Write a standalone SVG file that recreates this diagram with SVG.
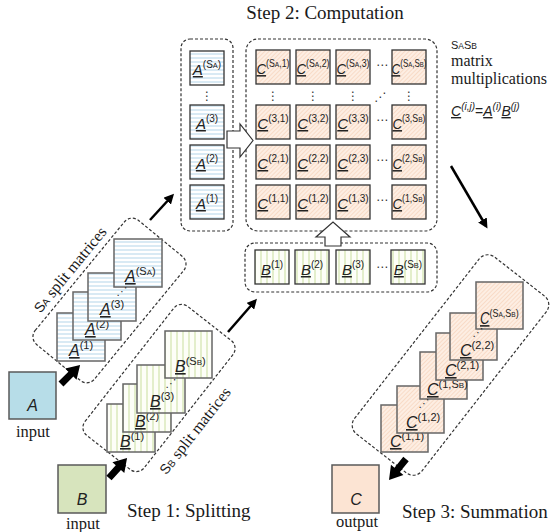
<svg xmlns="http://www.w3.org/2000/svg" width="557" height="532" viewBox="0 0 557 532">
<defs>
<pattern id="pA" width="4" height="4" patternUnits="userSpaceOnUse"><rect width="4" height="4" fill="#fff"/><line x1="0" y1="2" x2="4" y2="2" stroke="#b4d6ea" stroke-width="1"/></pattern>
<pattern id="pB" width="6" height="6" patternUnits="userSpaceOnUse"><rect width="6" height="6" fill="#fdfef8"/><line x1="3" y1="0" x2="3" y2="6" stroke="#cadf9e" stroke-width="1"/></pattern>
<pattern id="pC" width="3" height="3" patternUnits="userSpaceOnUse" patternTransform="rotate(45)"><rect width="3" height="3" fill="#fdeee3"/><line x1="1.5" y1="0" x2="1.5" y2="3" stroke="#f6d6c0" stroke-width="0.8"/></pattern>
<marker id="ah" viewBox="0 0 10 10" refX="7" refY="5" markerWidth="4" markerHeight="4" orient="auto" markerUnits="strokeWidth"><path d="M0,0 L10,5 L0,10 z" fill="#000"/></marker>
<path id="fat" d="M0,-3.5 L14,-3.5 L14,-8 L27,0 L14,8 L14,3.5 L0,3.5 z" fill="#000"/>
</defs>
<style>
.dash{fill:none;stroke:#333;stroke-width:1.2;stroke-dasharray:3 2}
.ta{fill:url(#pA);stroke:#333;stroke-width:1.3}
.tb{fill:url(#pB);stroke:#333;stroke-width:1.3}
.tc{fill:url(#pC);stroke:#333;stroke-width:1.3}
.sa{fill:url(#pA);stroke:#666;stroke-width:1.5}
.sb{fill:url(#pB);stroke:#666;stroke-width:1.5}
.sc{fill:url(#pC);stroke:#666;stroke-width:1.5}
.lb{font-family:"Liberation Sans",Arial,sans-serif;font-size:15px;fill:#222;text-anchor:middle}
.lg{font-family:"Liberation Sans",Arial,sans-serif;font-size:16px;fill:#222}
.i{font-style:italic;text-decoration:underline}
.s{font-size:10px}
.s2{font-size:11px}
.m{font-size:7.5px}
.m2{font-size:8px}
.dot{font-family:"DejaVu Sans",sans-serif;font-size:12px;fill:#333;text-anchor:middle}
.dt{font-family:"DejaVu Sans",sans-serif;font-size:11px;fill:#333;text-anchor:middle}
.ser{font-family:"Liberation Serif","Times New Roman",serif;fill:#1a1a1a}
.hol{fill:#fff;stroke:#333;stroke-width:1.2}
.thin{stroke:#000;stroke-width:2.5;fill:none;marker-end:url(#ah)}
</style>

<text class="ser" x="325" y="19" font-size="19" text-anchor="middle">Step 2: Computation</text>

<!-- dashed containers -->
<g id="groups">
<rect class="dash" x="181" y="39" width="52" height="192" rx="9"/>
<rect class="dash" x="246" y="39" width="191" height="192" rx="12"/>
<rect class="dash" x="245" y="243" width="192" height="49" rx="10"/>
<rect class="dash" x="-80.3" y="-38.4" width="160.6" height="76.7" rx="10" transform="translate(109.5,300.5) rotate(-50.6)"/>
<rect class="dash" x="-81.9" y="-37.6" width="163.8" height="75.2" rx="10" transform="translate(159,388) rotate(-51.9)"/>
<rect class="dash" x="-112.2" y="-42.7" width="224.4" height="85.4" rx="11" transform="translate(450.5,365) rotate(-52)"/>
</g>

<!-- A column -->
<g id="colA">
<rect class="ta" x="190" y="51" width="34" height="34"/>
<text class="lb" x="207" y="75"><tspan class="i">A</tspan><tspan class="s" dy="-7">(S</tspan><tspan class="m">A</tspan><tspan class="s">)</tspan></text>
<text class="dot" x="207" y="100">⋮</text>
<rect class="ta" x="190" y="105" width="34" height="34"/>
<text class="lb" x="207" y="129"><tspan class="i">A</tspan><tspan class="s" dy="-7">(3)</tspan></text>
<rect class="ta" x="190" y="145" width="34" height="34"/>
<text class="lb" x="207" y="169"><tspan class="i">A</tspan><tspan class="s" dy="-7">(2)</tspan></text>
<rect class="ta" x="190" y="185" width="34" height="34"/>
<text class="lb" x="207" y="209"><tspan class="i">A</tspan><tspan class="s" dy="-7">(1)</tspan></text>
</g>

<!-- C grid -->
<g id="gridC">
<rect class="tc" x="256" y="50" width="34" height="34"/>
<rect class="tc" x="296" y="50" width="34" height="34"/>
<rect class="tc" x="336" y="50" width="34" height="34"/>
<rect class="tc" x="392" y="50" width="34" height="34"/>
<rect class="tc" x="256" y="105" width="34" height="34"/>
<rect class="tc" x="296" y="105" width="34" height="34"/>
<rect class="tc" x="336" y="105" width="34" height="34"/>
<rect class="tc" x="392" y="105" width="34" height="34"/>
<rect class="tc" x="256" y="145" width="34" height="34"/>
<rect class="tc" x="296" y="145" width="34" height="34"/>
<rect class="tc" x="336" y="145" width="34" height="34"/>
<rect class="tc" x="392" y="145" width="34" height="34"/>
<rect class="tc" x="256" y="185" width="34" height="34"/>
<rect class="tc" x="296" y="185" width="34" height="34"/>
<rect class="tc" x="336" y="185" width="34" height="34"/>
<rect class="tc" x="392" y="185" width="34" height="34"/>

<text class="lb" transform="translate(273,74) scale(0.88,1)"><tspan class="i">C</tspan><tspan class="s" dy="-7">(S</tspan><tspan class="m">A</tspan><tspan class="s">,1)</tspan></text>
<text class="lb" transform="translate(313,74) scale(0.88,1)"><tspan class="i">C</tspan><tspan class="s" dy="-7">(S</tspan><tspan class="m">A</tspan><tspan class="s">,2)</tspan></text>
<text class="lb" transform="translate(353,74) scale(0.88,1)"><tspan class="i">C</tspan><tspan class="s" dy="-7">(S</tspan><tspan class="m">A</tspan><tspan class="s">,3)</tspan></text>
<text class="lb" transform="translate(409,74) scale(0.8,1)"><tspan class="i">C</tspan><tspan class="s" dy="-7">(S</tspan><tspan class="m">A</tspan><tspan class="s">,S</tspan><tspan class="m">B</tspan><tspan class="s">)</tspan></text>

<text class="lb" x="273" y="129"><tspan class="i">C</tspan><tspan class="s" dy="-7">(3,1)</tspan></text>
<text class="lb" x="313" y="129"><tspan class="i">C</tspan><tspan class="s" dy="-7">(3,2)</tspan></text>
<text class="lb" x="353" y="129"><tspan class="i">C</tspan><tspan class="s" dy="-7">(3,3)</tspan></text>
<text class="lb" transform="translate(409,129) scale(0.88,1)"><tspan class="i">C</tspan><tspan class="s" dy="-7">(3,S</tspan><tspan class="m">B</tspan><tspan class="s">)</tspan></text>

<text class="lb" x="273" y="169"><tspan class="i">C</tspan><tspan class="s" dy="-7">(2,1)</tspan></text>
<text class="lb" x="313" y="169"><tspan class="i">C</tspan><tspan class="s" dy="-7">(2,2)</tspan></text>
<text class="lb" x="353" y="169"><tspan class="i">C</tspan><tspan class="s" dy="-7">(2,3)</tspan></text>
<text class="lb" transform="translate(409,169) scale(0.88,1)"><tspan class="i">C</tspan><tspan class="s" dy="-7">(2,S</tspan><tspan class="m">B</tspan><tspan class="s">)</tspan></text>

<text class="lb" x="273" y="209"><tspan class="i">C</tspan><tspan class="s" dy="-7">(1,1)</tspan></text>
<text class="lb" x="313" y="209"><tspan class="i">C</tspan><tspan class="s" dy="-7">(1,2)</tspan></text>
<text class="lb" x="353" y="209"><tspan class="i">C</tspan><tspan class="s" dy="-7">(1,3)</tspan></text>
<text class="lb" transform="translate(409,209) scale(0.88,1)"><tspan class="i">C</tspan><tspan class="s" dy="-7">(1,S</tspan><tspan class="m">B</tspan><tspan class="s">)</tspan></text>

<text class="dot" x="382" y="69">⋯</text>
<text class="dot" x="382" y="124">⋯</text>
<text class="dot" x="382" y="164">⋯</text>
<text class="dot" x="382" y="204">⋯</text>
<text class="dot" x="273" y="100">⋮</text>
<text class="dot" x="313" y="100">⋮</text>
<text class="dot" x="353" y="100">⋮</text>
<text class="dot" x="409" y="100">⋮</text>
<text class="dot" x="380" y="101">⋰</text>
</g>

<!-- B row -->
<g id="rowB">
<rect class="tb" x="255" y="250" width="34" height="34"/>
<rect class="tb" x="295" y="250" width="34" height="34"/>
<rect class="tb" x="336" y="250" width="34" height="34"/>
<rect class="tb" x="391" y="250" width="34" height="34"/>
<text class="lb" x="272" y="275"><tspan class="i">B</tspan><tspan class="s" dy="-7">(1)</tspan></text>
<text class="lb" x="312" y="275"><tspan class="i">B</tspan><tspan class="s" dy="-7">(2)</tspan></text>
<text class="lb" x="353" y="275"><tspan class="i">B</tspan><tspan class="s" dy="-7">(3)</tspan></text>
<text class="lb" x="408" y="275"><tspan class="i">B</tspan><tspan class="s" dy="-7">(S</tspan><tspan class="m">B</tspan><tspan class="s">)</tspan></text>
<text class="dot" x="382" y="271">⋯</text>
</g>

<!-- right text -->
<g id="note">
<text class="ser" x="451" y="49" font-size="16"><tspan font-family="Liberation Sans" font-size="11">S</tspan><tspan font-family="Liberation Sans" font-size="8.5">A</tspan><tspan font-family="Liberation Sans" font-size="11">S</tspan><tspan font-family="Liberation Sans" font-size="8.5">B</tspan></text>
<text class="ser" x="451" y="66" font-size="16">matrix</text>
<text class="ser" x="451" y="84" font-size="16">multiplications</text>
<text x="451" y="116" font-family="Liberation Sans" font-size="14" fill="#222"><tspan class="i">C</tspan><tspan font-size="10" font-style="italic" dy="-6">(i,j)</tspan><tspan dy="6">=</tspan><tspan class="i">A</tspan><tspan font-size="10" font-style="italic" dy="-6">(i)</tspan><tspan class="i" dy="6">B</tspan><tspan font-size="10" font-style="italic" dy="-6">(j)</tspan></text>
</g>

<!-- A stack -->
<g id="stackA">
<rect class="sa" x="57" y="313" width="48" height="48"/>
<text class="lg" x="69" y="356"><tspan class="i">A</tspan><tspan class="s2" dy="-7">(1)</tspan></text>
<rect class="sa" x="73" y="292" width="48" height="48"/>
<text class="lg" x="85" y="335"><tspan class="i">A</tspan><tspan class="s2" dy="-7">(2)</tspan></text>
<rect class="sa" x="88" y="273" width="48" height="48"/>
<text class="lg" x="100" y="315"><tspan class="i">A</tspan><tspan class="s2" dy="-7">(3)</tspan></text>
<rect class="sa" x="114" y="239" width="48" height="48"/>
<text class="lg" x="125" y="282"><tspan class="i">A</tspan><tspan class="s2" dy="-7">(S</tspan><tspan class="m2">A</tspan><tspan class="s2">)</tspan></text>
<text class="dt" x="122" y="295">⋰</text>
<text transform="translate(74,273) rotate(-50.6)" text-anchor="middle" class="ser" font-size="16"><tspan font-family="Liberation Sans" font-size="14">S</tspan><tspan font-family="Liberation Sans" font-size="10">A</tspan><tspan> split matrices</tspan></text>
</g>

<!-- B stack -->
<g id="stackB">
<rect class="sb" x="107" y="404" width="48" height="48"/>
<text class="lg" x="120" y="447"><tspan class="i">B</tspan><tspan class="s2" dy="-7">(1)</tspan></text>
<rect class="sb" x="123" y="384" width="48" height="48"/>
<text class="lg" x="135" y="427"><tspan class="i">B</tspan><tspan class="s2" dy="-7">(2)</tspan></text>
<rect class="sb" x="137" y="365" width="48" height="48"/>
<text class="lg" x="150" y="407"><tspan class="i">B</tspan><tspan class="s2" dy="-7">(3)</tspan></text>
<rect class="sb" x="165" y="331" width="47" height="47"/>
<text class="lg" x="175" y="372"><tspan class="i">B</tspan><tspan class="s2" dy="-7">(S</tspan><tspan class="m2">B</tspan><tspan class="s2">)</tspan></text>
<text class="dt" x="171" y="387">⋰</text>
<text transform="translate(199,434) rotate(-51.9)" text-anchor="middle" class="ser" font-size="16"><tspan font-family="Liberation Sans" font-size="14">S</tspan><tspan font-family="Liberation Sans" font-size="10">B</tspan><tspan> split matrices</tspan></text>
</g>

<!-- C stack -->
<g id="stackC">
<rect class="sc" x="381" y="405" width="47" height="47"/>
<text class="lg" x="390" y="447"><tspan class="i">C</tspan><tspan class="s2" dy="-7">(1,1)</tspan></text>
<rect class="sc" x="397" y="386" width="47" height="47"/>
<text class="lg" x="406" y="428"><tspan class="i">C</tspan><tspan class="s2" dy="-7">(1,2)</tspan></text>
<rect class="sc" x="420" y="352" width="47" height="47"/>
<text class="lg" x="427" y="395"><tspan class="i">C</tspan><tspan class="s2" dy="-7">(1,S</tspan><tspan class="m2">B</tspan><tspan class="s2">)</tspan></text>
<text class="dt" x="424" y="407">⋰</text>
<rect class="sc" x="436" y="333" width="47" height="47"/>
<text class="lg" x="445" y="376"><tspan class="i">C</tspan><tspan class="s2" dy="-7">(2,1)</tspan></text>
<rect class="sc" x="450" y="313" width="47" height="47"/>
<text class="lg" x="460" y="356"><tspan class="i">C</tspan><tspan class="s2" dy="-7">(2,2)</tspan></text>
<rect class="sc" x="476" y="282" width="47" height="47"/>
<text class="lg" transform="translate(480,324) scale(0.82,1)"><tspan class="i">C</tspan><tspan class="s2" dy="-7">(S</tspan><tspan class="m2">A</tspan><tspan class="s2">,S</tspan><tspan class="m2">B</tspan><tspan class="s2">)</tspan></text>
<text class="dt" x="478" y="336">⋰</text>
</g>

<!-- inputs / output -->
<g id="inA">
<rect x="9" y="372" width="47" height="47" fill="#b7dde8" stroke="#595959" stroke-width="1.5"/>
<text x="32.5" y="411" font-family="Liberation Sans" font-style="italic" font-size="16" text-anchor="middle" fill="#222">A</text>
<text class="ser" x="33" y="437" font-size="16.5" text-anchor="middle">input</text>
</g>
<g id="inB">
<rect x="58" y="465" width="48" height="48" fill="#d7e4bd" stroke="#595959" stroke-width="1.5"/>
<text x="82" y="505" font-family="Liberation Sans" font-style="italic" font-size="16" text-anchor="middle" fill="#222">B</text>
<text class="ser" x="83" y="529" font-size="16.5" text-anchor="middle">input</text>
</g>
<g id="outC">
<rect x="332" y="465" width="47" height="48" fill="#fce4d3" stroke="#595959" stroke-width="1.5"/>
<text x="356" y="505" font-family="Liberation Sans" font-style="italic" font-size="16" text-anchor="middle" fill="#222">C</text>
<text class="ser" x="357" y="527" font-size="16.5" text-anchor="middle">output</text>
</g>

<text class="ser" x="127" y="517" font-size="19">Step 1: Splitting</text>
<text class="ser" x="402" y="518" font-size="19">Step 3: Summation</text>

<!-- connectors -->
<g id="connectors">
<polygon class="hol" points="227,131 240,131 240,124 253,140.5 240,157 240,148 227,148"/>
<polygon class="hol" points="325,246 325,237 316,237 333,222 350,237 341,237 341,246"/>
<line class="thin" x1="150" y1="220" x2="172" y2="196"/>
<line class="thin" x1="228" y1="332" x2="255" y2="301"/>
<line class="thin" x1="451" y1="166" x2="486" y2="226"/>
<use href="#fat" transform="translate(61,384) rotate(-45)"/>
<use href="#fat" transform="translate(109,478) rotate(-48)"/>
<use href="#fat" transform="translate(406,459) rotate(129)"/>
</g>
</svg>
